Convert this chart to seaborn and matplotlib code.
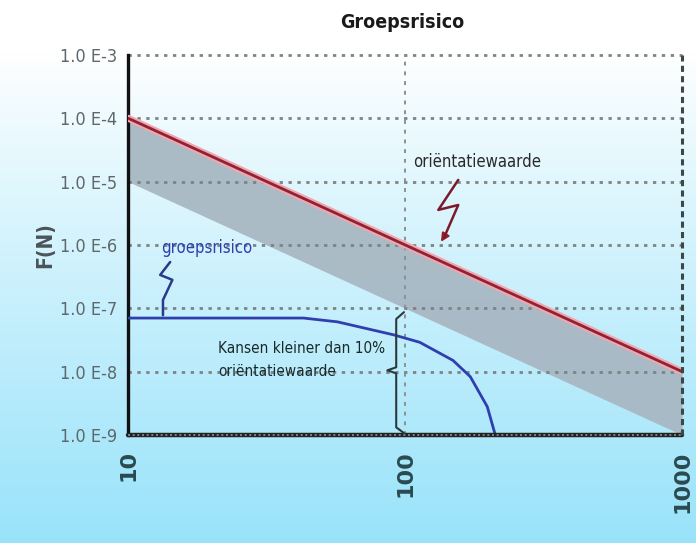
import numpy as np
import pandas as pd
import matplotlib
matplotlib.use("Agg")
import matplotlib.pyplot as plt
import seaborn as sns
from matplotlib.lines import Line2D

# data
n_values = [10, 100, 1000]
orientatie = [1e-4, 1e-6, 1e-8]          # orientatiewaarde (red line)
band_lower = [1e-5, 1e-7, 1e-9]          # lower edge of grey band
gr_n = [10, 43, 57, 91, 113, 149, 172, 198, 211]
gr_f = [7.0e-8, 7.0e-8, 6.1e-8, 3.8e-8, 2.9e-8, 1.5e-8, 8.3e-9, 2.8e-9, 1.05e-9]
y_ticks = [1e-9, 1e-8, 1e-7, 1e-6, 1e-5, 1e-4, 1e-3]
y_labels = ["1.0 E-9", "1.0 E-8", "1.0 E-7", "1.0 E-6", "1.0 E-5", "1.0 E-4", "1.0 E-3"]
x_labels = ["10", "100", "1000"]

sns.set_style("white")
plt.rcParams['font.family'] = ['DejaVu Sans']
plt.rcParams['font.stretch'] = 'condensed'

fig = plt.figure(figsize=(6.96, 5.43), dpi=100)

# background gradient, white on top to light cyan at the bottom
bg = fig.add_axes([0, 0, 1, 1], zorder=-10)
t = np.linspace(0, 1, 256)[:, None]
top = np.array([1.0, 1.0, 1.0])
bot = np.array([0.60, 0.89, 0.98])
w = np.clip((t - 0.10) / 0.90, 0, 1) ** 0.9
grad = top * (1 - w[..., None]) + bot * w[..., None]
grad = np.repeat(grad, 2, axis=1)
bg.imshow(grad, aspect="auto", extent=[0, 1, 0, 1], origin="upper")
bg.axis("off")

ax = fig.add_axes([0.184, 0.199, 0.796, 0.700])
ax.patch.set_alpha(0)

df_or = pd.DataFrame({"N": n_values, "F": orientatie})
df_gr = pd.DataFrame({"N": gr_n, "F": gr_f})

ax.fill_between(n_values, band_lower, orientatie, color="#a8b8c3", alpha=0.95, lw=0, zorder=1)
sns.lineplot(data=df_or, x="N", y="F", ax=ax, color="#f2a6ae", lw=5, zorder=3)
sns.lineplot(data=df_or, x="N", y="F", ax=ax, color="#8e2236", lw=2.0, zorder=4)
sns.lineplot(data=df_gr, x="N", y="F", ax=ax, color="#2f3fae", lw=2.0, zorder=4, sort=False)

ax.set_xscale("log")
ax.set_yscale("log")
ax.set_xlim(10, 1000)
ax.set_ylim(1e-9, 1e-3)

# dotted grid
for yv in y_ticks[1:]:
    ax.axhline(yv, color="#7e8484", lw=2.0, ls=(0, (1.2, 2.0)), zorder=2, clip_on=False)
ax.axvline(100, color="#8c9090", lw=1.4, ls=(0, (2, 3)), zorder=2)
ax.axhline(1e-9, color="#222222", lw=3.2, zorder=5, clip_on=False)
ax.axhline(1e-9, color="#8a9090", lw=1.2, ls=(0, (1.2, 1.6)), zorder=6, clip_on=False)
ax.axvline(1000, color="#3a4848", lw=2.2, ls=(0, (2, 1.4)), zorder=5, clip_on=False)

for s in ["top", "right", "bottom"]:
    ax.spines[s].set_visible(False)
ax.spines["left"].set_color("#111111")
ax.spines["left"].set_linewidth(2.4)

ax.set_yticks(y_ticks)
ax.set_yticklabels(y_labels, fontsize=13, color="#5e686c")
ax.minorticks_off()
ax.set_xticks(n_values)
ax.set_xticklabels(x_labels, rotation=90, fontsize=16, color="#2a4a50",
                   fontweight="bold", fontstretch="normal")
ax.tick_params(axis="y", length=5, width=1, color="#7a8488", pad=3)
ax.tick_params(axis="x", length=6, width=1, color="#7a8488", pad=5)
ax.set_xlabel("")
ax.set_ylabel("F(N)", fontsize=15, color="#4a5458", fontweight="bold", labelpad=3)

fig.text(0.578, 0.958, "Groepsrisico", ha="center", va="center", fontsize=14,
         color="#1a1a1a", fontweight="semibold")

# labels with lightning arrows
ax.text(0.06, 0.493, "groepsrisico", transform=ax.transAxes, fontsize=12,
        color="#2f3fae", ha="left", va="center")
bolt_g = Line2D([0.076, 0.058, 0.080, 0.063, 0.063],
                [0.455, 0.421, 0.408, 0.355, 0.315],
                transform=ax.transAxes, color="#2a3a8a", lw=1.8, zorder=7)
ax.add_line(bolt_g)

ax.text(0.515, 0.718, "oriëntatiewaarde", transform=ax.transAxes, fontsize=12,
        color="#2a2a2a", ha="left", va="center")
ax.plot([0.596, 0.560, 0.596, 0.570], [0.671, 0.592, 0.605, 0.518],
        transform=ax.transAxes, color="#7a1a2a", lw=1.8, zorder=7)
ax.annotate("", xy=(0.562, 0.502), xytext=(0.572, 0.525), xycoords="axes fraction",
            arrowprops=dict(arrowstyle="-|>", color="#9a1a2a", lw=1.5, mutation_scale=12))

# curly bracket and its label
ax.plot([0.498, 0.484, 0.484, 0.468, 0.484, 0.484, 0.498],
        [0.323, 0.305, 0.178, 0.170, 0.162, 0.02, 0.005],
        transform=ax.transAxes, color="#2a3a3a", lw=1.5, zorder=7)
ax.text(0.163, 0.197, "Kansen kleiner dan 10%\noriëntatiewaarde", transform=ax.transAxes,
        fontsize=11, color="#1a2a2a", ha="left", va="center", linespacing=1.6)

fig.savefig("out.png", dpi=100)
